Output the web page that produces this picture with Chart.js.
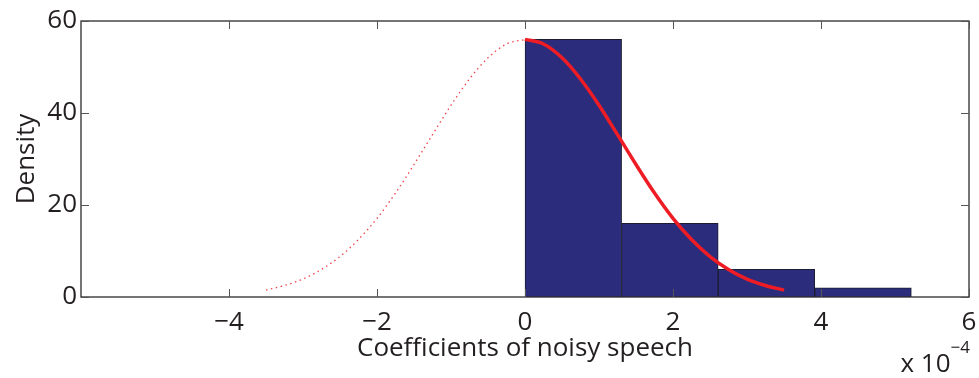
<!DOCTYPE html>
<html>
<head>
<meta charset="utf-8">
<script src="https://cdn.jsdelivr.net/npm/chart.js@4.4.0/dist/chart.umd.min.js"></script>
<style>
  html, body { margin: 0; padding: 0; background: #fff; }
  #wrap { width: 979px; height: 378px; }
</style>
</head>
<body>
<div id="wrap"><canvas id="histChart" width="979" height="378"></canvas></div>
<script>
// histogram bins (x in units of 1e-4)
var binCenters = [0.653, 1.958, 3.263, 4.568];
var binHeights = [56, 16, 6, 2];

// fitted density curve
var fitX = [-3.5, -3.25, -3, -2.75, -2.5, -2.25, -2, -1.75, -1.5, -1.25, -1, -0.75, -0.5, -0.25, 0,
            0.25, 0.5, 0.75, 1, 1.25, 1.5, 1.75, 2, 2.25, 2.5, 2.75, 3, 3.25, 3.5];
var fitY = [1.5, 2.5, 3.9, 6.0, 8.8, 12.5, 17.1, 22.6, 28.8, 35.3, 41.7, 47.4, 52.0, 55.0, 56,
            55.0, 52.0, 47.4, 41.7, 35.3, 28.8, 22.6, 17.1, 12.5, 8.8, 6.0, 3.9, 2.5, 1.5];

var xTicks = [-4, -2, 0, 2, 4, 6];
var yTicks = [0, 20, 40, 60];

var fontFam = '"Open Sans", "Noto Sans", sans-serif';
var textCol = '#231f20';

var dottedPts = [], solidPts = [];
for (var i = 0; i < fitX.length; i++) {
    if (fitX[i] <= 0) dottedPts.push({x: fitX[i], y: fitY[i]});
    if (fitX[i] >= 0) solidPts.push({x: fitX[i], y: fitY[i]});
}
var barPts = binCenters.map(function (c, i) { return {x: c, y: binHeights[i]}; });

function fmt(v) { return String(v).replace('-', '\u2212'); }

// matlab-ish box with inward ticks, plus the x 10^-4 multiplier
var boxPlugin = {
    id: 'boxPlugin',
    afterDatasetsDraw: function (chart) {
        var c = chart.ctx, a = chart.chartArea;
        var xs = chart.scales.x, ys = chart.scales.y;
        c.save();
        c.strokeStyle = '#2b2b2b';
        c.lineWidth = 1.3;
        c.strokeRect(a.left, a.top, a.right - a.left, a.bottom - a.top);
        c.lineWidth = 1;
        c.strokeStyle = '#555';
        var tl = 8;
        xTicks.forEach(function (t) {
            var px = Math.round(xs.getPixelForValue(t)) + 0.5;
            c.beginPath();
            c.moveTo(px, a.bottom); c.lineTo(px, a.bottom - tl);
            c.moveTo(px, a.top); c.lineTo(px, a.top + tl);
            c.stroke();
        });
        yTicks.forEach(function (t) {
            var py = Math.round(ys.getPixelForValue(t)) + 0.5;
            c.beginPath();
            c.moveTo(a.left, py); c.lineTo(a.left + tl, py);
            c.moveTo(a.right, py); c.lineTo(a.right - tl, py);
            c.stroke();
        });
        c.fillStyle = textCol;
        c.textBaseline = 'alphabetic';
        c.textAlign = 'right';
        c.font = '17px ' + fontFam;
        c.fillText('\u22124', a.right + 1, 353);
        var w = c.measureText('\u22124').width;
        c.font = '26px ' + fontFam;
        c.fillText('x 10', a.right + 1 - w, 372);
        c.restore();
    }
};

var ctx = document.getElementById('histChart').getContext('2d');
var chart = new Chart(ctx, {
    type: 'bar',
    data: {
        datasets: [{
            type: 'bar',
            data: barPts,
            backgroundColor: '#2b2c7c',
            borderColor: '#1c1c30',
            borderWidth: 1,
            barPercentage: 1,
            categoryPercentage: 1,
            order: 3
        }, {
            type: 'line',
            data: dottedPts,
            borderColor: '#f0434b',
            borderWidth: 1.3,
            borderDash: [1.5, 3.5],
            pointRadius: 0,
            cubicInterpolationMode: 'monotone',
            order: 2
        }, {
            type: 'line',
            data: solidPts,
            borderColor: '#ee1c25',
            borderWidth: 3.5,
            pointRadius: 0,
            cubicInterpolationMode: 'monotone',
            order: 1
        }]
    },
    options: {
        responsive: false,
        animation: false,
        layout: { padding: { left: 0, right: 10, top: 21, bottom: 0 } },
        plugins: { legend: { display: false }, tooltip: { enabled: false } },
        scales: {
            x: {
                type: 'linear',
                min: -6,
                max: 6,
                offset: false,
                grid: { display: false, drawTicks: false },
                border: { display: false },
                afterBuildTicks: function (s) { s.ticks = xTicks.map(function (v) { return {value: v}; }); },
                afterFit: function (s) { s.height = 81; s.paddingLeft = 0; s.paddingRight = 0; },
                ticks: {
                    padding: 10,
                    color: textCol,
                    font: { family: fontFam, size: 26 },
                    maxRotation: 0,
                    callback: function (v) { return fmt(v); }
                },
                title: {
                    display: true,
                    text: 'Coefficients of noisy speech',
                    color: textCol,
                    font: { family: fontFam, size: 26 },
                    padding: { top: 0, bottom: 14 }
                }
            },
            y: {
                min: 0,
                max: 60,
                grid: { display: false, drawTicks: false },
                border: { display: false },
                afterBuildTicks: function (s) { s.ticks = yTicks.map(function (v) { return {value: v}; }); },
                afterFit: function (s) { s.width = 81; s.paddingTop = 0; s.paddingBottom = 0; },
                ticks: {
                    padding: 4,
                    color: textCol,
                    font: { family: fontFam, size: 26 },
                    callback: function (v) { return fmt(v); }
                },
                title: {
                    display: true,
                    text: 'Density',
                    color: textCol,
                    font: { family: fontFam, size: 26 },
                    padding: { top: 11, bottom: 0 }
                }
            }
        }
    },
    plugins: [boxPlugin]
});
</script>
</body>
</html>
